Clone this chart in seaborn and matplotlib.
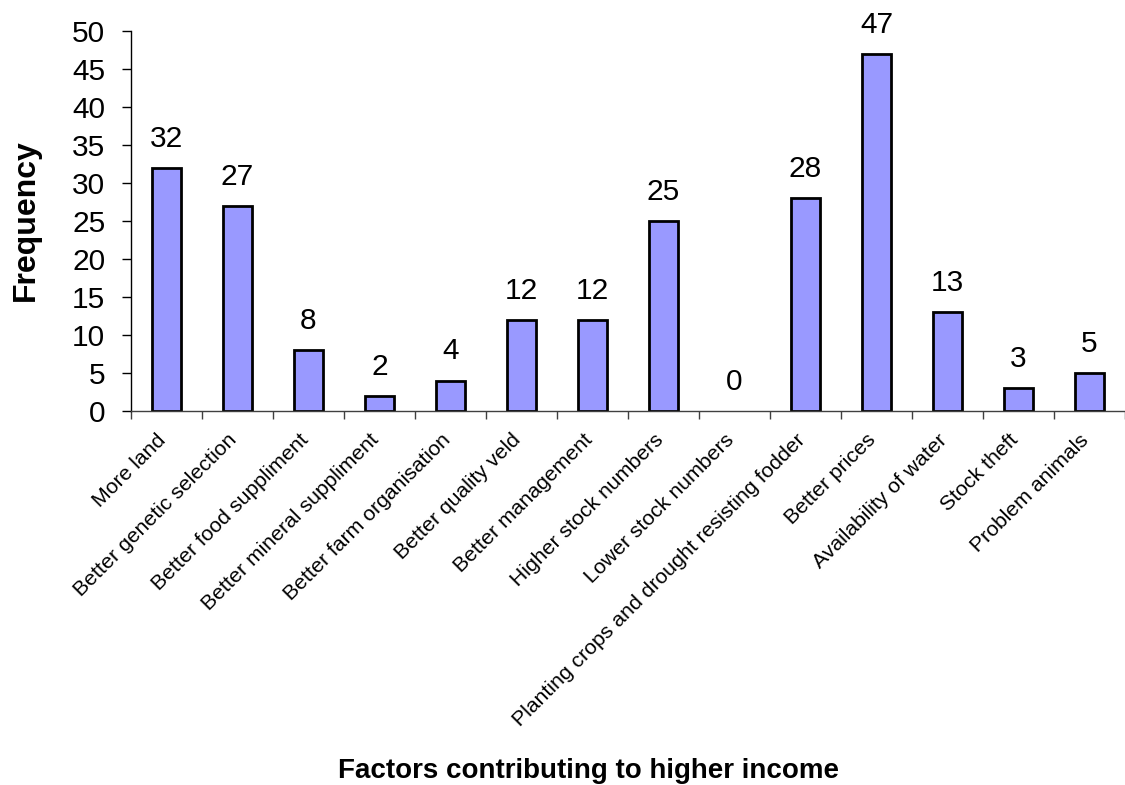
import matplotlib
matplotlib.use("Agg")
import matplotlib.pyplot as plt
import matplotlib.transforms as mtransforms
import seaborn as sns
import pandas as pd
import numpy as np

factors = [
    "More land",
    "Better genetic selection",
    "Better food suppliment",
    "Better mineral suppliment",
    "Better farm organisation",
    "Better quality veld",
    "Better management",
    "Higher stock numbers",
    "Lower stock numbers",
    "Planting crops and drought resisting fodder",
    "Better prices",
    "Availability of water",
    "Stock theft",
    "Problem animals",
]
frequency = [32, 27, 8, 2, 4, 12, 12, 25, 0, 28, 47, 13, 3, 5]

sns.set_theme(style="white")
plt.rcParams["font.family"] = ["Liberation Sans", "DejaVu Sans"]
plt.rcParams["text.color"] = "black"
plt.rcParams["xtick.color"] = "black"
plt.rcParams["ytick.color"] = "black"

df = pd.DataFrame({"factor": factors, "frequency": frequency})

fig = plt.figure(figsize=(11.25, 7.85), dpi=100)
ax = fig.add_axes([0.1164, 0.4764, 0.8836, 0.4841])

sns.barplot(data=df, x="factor", y="frequency", color="#9999FF",
            edgecolor="black", linewidth=2.0, width=0.42, saturation=1,
            ax=ax)

# a zero-height bar should leave no outline on the axis
for patch in ax.patches:
    if patch.get_height() == 0:
        patch.set_linewidth(0)

ax.set_xlim(-0.5, len(factors) - 0.5)
ax.set_ylim(0, 50)
ax.set_yticks(np.arange(0, 51, 5))
ax.tick_params(axis="y", labelsize=21.5, length=6.5, width=1, color="black",
               left=True, pad=12)

# category labels on major ticks, boundary tick marks as minor ticks
ax.set_xticks(range(len(factors)))
ax.set_xticklabels(factors, rotation=45, ha="right", rotation_mode="anchor",
                   fontsize=15.3)
ax.tick_params(axis="x", which="major", length=0, pad=14)
ax.set_xticks(np.arange(-0.5, len(factors), 1.0), minor=True)
ax.tick_params(axis="x", which="minor", length=6, width=1, color="#404040",
               bottom=True)
shift = mtransforms.ScaledTranslation(-10 / 100, 0, fig.dpi_scale_trans)
for lbl in ax.get_xticklabels():
    lbl.set_transform(lbl.get_transform() + shift)

for side in ("top", "right"):
    ax.spines[side].set_visible(False)
ax.spines["left"].set_color("black")
ax.spines["bottom"].set_color("#404040")
ax.spines["left"].set_linewidth(1)
ax.spines["bottom"].set_linewidth(1)

for i, v in enumerate(frequency):
    ax.annotate(str(v), (i, v), xytext=(0, 11), textcoords="offset points",
                ha="center", va="bottom", fontsize=21.5)

ax.set_xlabel("")
ax.set_ylabel("")
fig.text(26 / 1125, 1 - 220 / 785, "Frequency", rotation=90,
         ha="center", va="center", fontsize=23, fontweight="bold")
fig.text(0.523, 1 - 778 / 785, "Factors contributing to higher income",
         ha="center", va="baseline", fontsize=20, fontweight="bold")

fig.savefig("out.png", dpi=100)
